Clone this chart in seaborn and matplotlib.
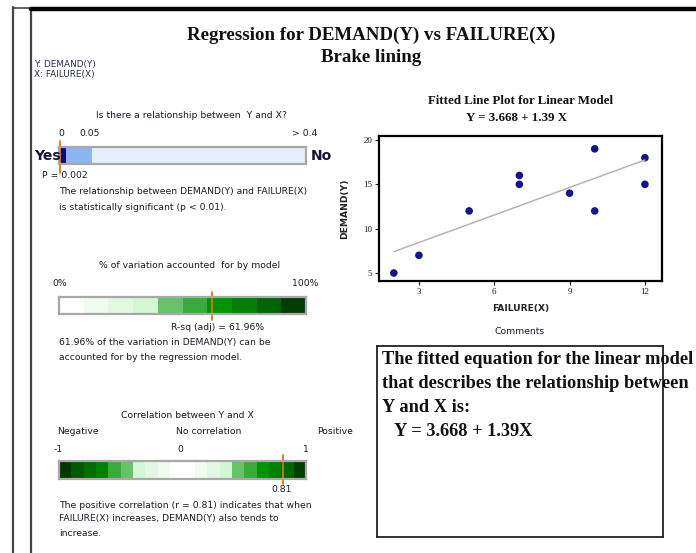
import numpy as np
import pandas as pd
import matplotlib
matplotlib.use("Agg")
import matplotlib.pyplot as plt
from matplotlib.colors import ListedColormap
import seaborn as sns

# ---------------- data ----------------
failure_x = [2, 3, 5, 7, 7, 9, 10, 10, 12, 12]
demand_y = [5, 7, 12, 16, 15, 14, 19, 12, 18, 15]
x_ticks = [3, 6, 9, 12]
y_ticks = [5, 10, 15, 20]

p_value = 0.002
p_tick_values = [0, 0.05, 0.4]
p_tick_labels = ["0", "0.05", "> 0.4"]
p_segment_edges = [0, 0.01, 0.05, 0.4]
p_segment_colors = ["#0b0b72", "#8cb4f6", "#e6eefb"]

rsq_adj = 61.96
rsq_colors = ["#ffffff", "#f1fcf1", "#e2f8e2", "#d3f6d3", "#66c266",
              "#3aaa3a", "#009400", "#008000", "#006400", "#003e00"]

corr_r = 0.81
corr_colors = ["#003800", "#005800", "#006e00", "#008000", "#3aaa3a",
               "#66c266", "#d3f6d3", "#e2f8e2", "#f1fcf1", "#ffffff",
               "#ffffff", "#f1fcf1", "#e2f8e2", "#d3f6d3", "#66c266",
               "#3aaa3a", "#009400", "#008000", "#006400", "#003e00"]

# ---------------- figure ----------------
sns.set_theme(style="white")
plt.rcParams["font.family"] = ["DejaVu Sans"]
W, H = 696, 553
fig = plt.figure(figsize=(W / 100, H / 100), dpi=100)
fig.patch.set_facecolor("white")


def T(x, y, s, **kw):
    kw.setdefault("va", "center")
    kw.setdefault("ha", "left")
    fig.text(x / W, 1 - y / H, s, **kw)


def AX(l, t, r, b):
    return fig.add_axes([l / W, 1 - b / H, (r - l) / W, (b - t) / H])


def L(xs, ys, **kw):
    fig.add_artist(plt.Line2D([x / W for x in xs], [1 - y / H for y in ys],
                              transform=fig.transFigure, **kw))


# page borders
L([13, 13], [7, 553], color="#444444", lw=1.6)
L([31, 31], [8, 553], color="#444444", lw=1.6)
L([13, 31], [7.5, 7.5], color="#444444", lw=1.2)
L([31, 696], [9, 9], color="black", lw=3.2)

serif = "Liberation Serif"
small = dict(fontsize=6.7, color="#1a1a2a")

# titles
T(371, 35, "Regression for DEMAND(Y) vs FAILURE(X)", ha="center",
  fontsize=13.6, fontweight="bold", family=serif, color="#111111")
T(371, 57, "Brake lining", ha="center",
  fontsize=13.6, fontweight="bold", family=serif, color="#111111")
T(34, 64, "Y: DEMAND(Y)", fontsize=6.4, color="#2a2a5a")
T(34, 74, "X: FAILURE(X)", fontsize=6.4, color="#2a2a5a")

# ---------------- panel 1: p-value bar ----------------
T(191, 115, "Is there a relationship between  Y and X?", ha="center", **small)
ax1 = AX(59, 147, 306, 164)


def pscale(p):
    return np.interp(p, p_tick_values, [0.0, 0.134, 1.0])


for i, c in enumerate(p_segment_colors):
    a, b = pscale(p_segment_edges[i]), pscale(p_segment_edges[i + 1])
    ax1.barh([0], [b - a], left=[a], height=1.0, color=c, edgecolor="none")
ax1.set_xlim(0, 1)
ax1.set_ylim(-0.5, 0.5)
ax1.set_xticks([])
ax1.set_yticks([])
for s in ax1.spines.values():
    s.set_color("#a8a8a8")
    s.set_linewidth(1.6)
pv = pscale(p_value)
ax1.plot([pv, pv], [-1.0, 0.85], color="#e07020", lw=1.3, clip_on=False)
for v, lab, xx in zip(p_tick_values, p_tick_labels, [61, 90, 305]):
    T(xx, 133, lab, ha="center", **small)
T(34, 156, "Yes", fontsize=10, fontweight="bold", color="#14143c")
T(311, 156, "No", fontsize=10, fontweight="bold", color="#14143c")
T(42, 176, f"P = {p_value:.3f}", **small)
T(59, 192, "The relationship between DEMAND(Y) and FAILURE(X)", **small)
T(59, 207, "is statistically significant (p < 0.01).", **small)

# ---------------- panel 2: R-sq bar ----------------
T(190, 265, "% of variation accounted  for by model", ha="center", **small)
T(52, 284, "0%", **small)
T(318, 284, "100%", ha="right", **small)
ax2 = AX(59, 297, 306, 314)
sns.heatmap(np.arange(len(rsq_colors)).reshape(1, -1), ax=ax2,
            cmap=ListedColormap(rsq_colors), cbar=False,
            xticklabels=False, yticklabels=False, linewidths=0)
for s in ax2.spines.values():
    s.set_visible(True)
    s.set_color("#a8a8a8")
    s.set_linewidth(1.6)
rx = rsq_adj / 100 * len(rsq_colors)
ax2.plot([rx, rx], [-0.3, 1.35], color="#e07020", lw=1.3, clip_on=False)
T(218, 328, f"R-sq (adj) = {rsq_adj:.2f}%", ha="center", **small)
T(59, 342, f"{rsq_adj:.2f}% of the variation in DEMAND(Y) can be", **small)
T(59, 357, "accounted for by the regression model.", **small)

# ---------------- panel 3: correlation bar ----------------
T(187, 415, "Correlation between Y and X", ha="center", **small)
T(57, 431, "Negative", **small)
T(176, 431, "No correlation", **small)
T(317, 431, "Positive", **small)
T(58, 450, "-1", ha="center", **small)
T(180, 450, "0", ha="center", **small)
T(306, 450, "1", ha="center", **small)
ax3 = AX(59, 461, 306, 479)
sns.heatmap(np.arange(len(corr_colors)).reshape(1, -1), ax=ax3,
            cmap=ListedColormap(corr_colors), cbar=False,
            xticklabels=False, yticklabels=False, linewidths=0)
for s in ax3.spines.values():
    s.set_visible(True)
    s.set_color("#a8a8a8")
    s.set_linewidth(1.6)
cx = (corr_r + 1) / 2 * len(corr_colors)
ax3.plot([cx, cx], [-0.35, 1.25], color="#e07020", lw=1.3, clip_on=False)
T(282, 490, f"{corr_r:.2f}", ha="center", **small)
T(59, 506, f"The positive correlation (r = {corr_r:.2f}) indicates that when", **small)
T(59, 519, "FAILURE(X) increases, DEMAND(Y) also tends to", **small)
T(59, 533, "increase.", **small)

# ---------------- scatter / fitted line ----------------
T(521, 101, "Fitted Line Plot for Linear Model", ha="center",
  fontsize=9.3, fontweight="bold", family=serif, color="#111111")
T(517, 118, "Y = 3.668 + 1.39 X", ha="center",
  fontsize=9.3, fontweight="bold", family=serif, color="#111111")
axs = AX(379, 136, 662, 281)
df = pd.DataFrame({"FAILURE(X)": failure_x, "DEMAND(Y)": demand_y})
sns.regplot(data=df, x="FAILURE(X)", y="DEMAND(Y)", ax=axs, ci=None,
            scatter_kws=dict(s=30, color="#14148c", edgecolor="none", alpha=1),
            line_kws=dict(color="#b4b4b4", lw=1.1))
axs.set_xlim(1.41, 12.68)
axs.set_ylim(4.1, 20.45)
axs.set_xticks(x_ticks)
axs.set_yticks(y_ticks)
axs.tick_params(axis="both", which="both", direction="out", length=3, width=0.8,
                labelsize=6.5, pad=2, bottom=True, left=True, colors="#222222")
for lab in axs.get_xticklabels() + axs.get_yticklabels():
    lab.set_family(serif)
for s in axs.spines.values():
    s.set_color("black")
    s.set_linewidth(1.6)
axs.set_xlabel("FAILURE(X)", fontsize=6.6, fontweight="bold", labelpad=6,
               color="#222222")
axs.set_ylabel("DEMAND(Y)", fontsize=6.6, fontweight="bold", labelpad=10,
               color="#222222")

T(520, 331, "Comments", ha="center", **small)

# ---------------- comments box ----------------
axc = AX(377, 346, 663, 537)
axc.set_xticks([])
axc.set_yticks([])
for s in axc.spines.values():
    s.set_color("#222222")
    s.set_linewidth(1.3)
cfont = dict(fontsize=13.2, fontweight="bold", family=serif, color="#111111")
T(382, 360, "The fitted equation for the linear model", **cfont)
T(382, 384, "that describes the relationship between", **cfont)
T(382, 407, "Y and X is:", **cfont)
T(394, 431, "Y = 3.668 + 1.39X", **cfont)

fig.savefig("out.png", dpi=100)
